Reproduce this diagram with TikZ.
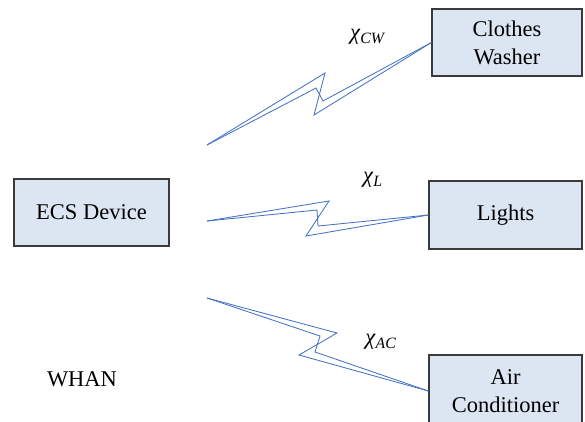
\documentclass[tikz,border=0pt]{standalone}
\usepackage{fontspec}
\setmainfont{Liberation Serif}
\usetikzlibrary{positioning}

\definecolor{boxfill}{HTML}{DCE6F2}
\definecolor{boxline}{HTML}{3A3A3A}
\definecolor{linkblue}{HTML}{4472C4}

\tikzset{
  devbox/.style={draw=boxline, fill=boxfill, line width=0.8pt, align=center, font=\fontsize{16}{20}\selectfont, inner sep=0pt},
  link/.style={draw=linkblue, line width=0.6pt, line join=miter},
  chan/.style={font=\fontsize{16}{20}\selectfont}
}

\begin{document}
\begin{tikzpicture}[x=0.025cm, y=-0.025cm]
\useasboundingbox (0,0) rectangle (585,421);

%devices
\node[devbox, minimum width=3.875cm, minimum height=1.675cm] (ecs) at (91.5,212.5) {ECS Device};
\node[devbox, minimum width=3.75cm, minimum height=1.675cm] (washer) at (507,42.5) {Clothes\\Washer};
\node[devbox, minimum width=3.825cm, minimum height=1.7cm] (lights) at (505.5,215) {Lights};
\node[devbox, minimum width=3.825cm, minimum height=1.8cm] (ac) at (505.5,391) {Air\\Conditioner};

\node[chan] (whan) at (82,379) {WHAN};

%free ends of the links
\coordinate (cwstart) at (207,145);
\coordinate (lstart) at (207,221);
\coordinate (acstart) at (207,298);

%zigzag links
\draw[link] (cwstart) -- (325,73) -- (314,115) -- (washer.west);
\draw[link] (cwstart) -- (316,88) -- (323,101) -- (washer.west);

\draw[link] (lstart) -- (329,201) -- (306,236) -- (lights.west);
\draw[link] (lstart) -- (317,210) -- (318,226) -- (lights.west);

\draw[link] (acstart) -- (337,333) -- (299,355) -- (ac.west);
\draw[link] (acstart) -- (320,336) -- (315,352) -- (ac.west);

%channel labels
\node[chan] (chicw) at (368,37) {\textit{χ}\textsubscript{\textit{CW}}};
\node[chan] (chil) at (373,180) {\textit{χ}\textsubscript{\textit{L}}};
\node[chan] (chiac) at (381,342) {\textit{χ}\textsubscript{\textit{AC}}};

\end{tikzpicture}
\end{document}
